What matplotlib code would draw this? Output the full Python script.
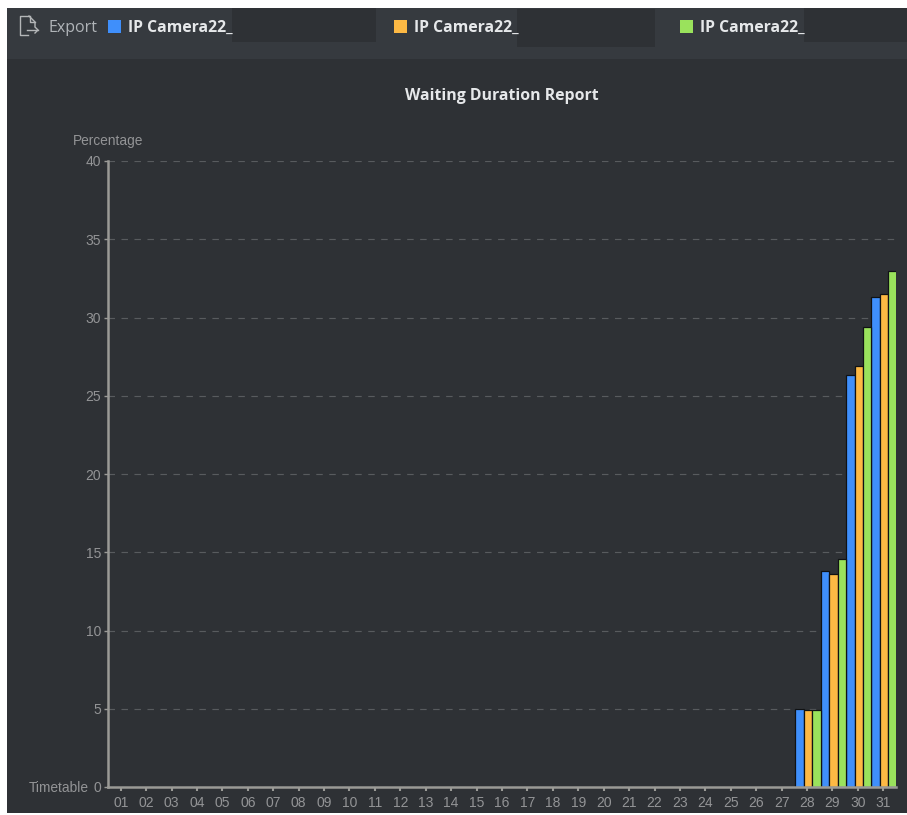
#!/usr/bin/env python
# -*- coding: utf-8 -*-
"""
Waiting duration report, three cameras, dark client window
"""

import matplotlib
matplotlib.use('Agg')
import matplotlib.pyplot as plt
from matplotlib.patches import Rectangle
import numpy as np

# =============================================================================
# Define variables
# =============================================================================
WIDTH, HEIGHT = 907, 815

days = ['{0:02d}'.format(d) for d in range(1, 32)]
camera_a = [0] * 27 + [5.0, 13.8, 26.3, 31.3]
camera_b = [0] * 27 + [4.95, 13.6, 26.9, 31.5]
camera_c = [0] * 27 + [4.95, 14.6, 29.4, 33.0]
yticks = [0, 5, 10, 15, 20, 25, 30, 35, 40]
legend_names = ['IP Camera22_', 'IP Camera22_', 'IP Camera22_']

BLUE = '#3f8ffb'
ORANGE = '#fdb944'
GREEN = '#9ae25c'
BG = '#2e3135'
HEADER = '#363a3f'
MASK = '#2e3135'
AXIS = '#9a9a96'
TEXT = '#939496'

plt.rcParams['font.family'] = ['Liberation Sans', 'DejaVu Sans']

# =============================================================================
# Start of code
# =============================================================================
if __name__ == "__main__":
    fig = plt.figure(figsize=(WIDTH / 100, HEIGHT / 100), dpi=100,
                     facecolor='white')

    # window background, header strip and masked camera names (pixel coords)
    bg = fig.add_axes([0, 0, 1, 1])
    bg.set(xlim=(0, WIDTH), ylim=(HEIGHT, 0))
    bg.axis('off')
    bg.add_patch(Rectangle((7, 8), 900, 805, fc=BG, ec='none'))
    bg.add_patch(Rectangle((7, 8), 900, 51, fc=HEADER, ec='none'))
    bg.add_patch(Rectangle((232, 8), 144, 34, fc=MASK, ec='none'))
    bg.add_patch(Rectangle((517, 9), 138, 38, fc=MASK, ec='none'))
    bg.add_patch(Rectangle((804, 8), 103, 34, fc=MASK, ec='none'))

    # export icon
    bg.plot([29, 20, 20, 28], [16, 16, 35, 35], color='#b4b6b8', lw=1)
    bg.plot([29, 35, 35], [16, 22, 26], color='#b4b6b8', lw=1)
    bg.plot([30, 30, 35], [16, 22, 22], color='#b4b6b8', lw=1)
    bg.plot([27, 38], [30, 30], color='#b4b6b8', lw=1)
    bg.plot([35, 38, 35], [27, 30, 33], color='#b4b6b8', lw=1)
    bg.text(49, 28.5, 'Export', color='#b0b4b8', fontsize=11.5,
            family=['Open Sans', 'DejaVu Sans'], va='center')

    # legend
    for xpos, colour, name in zip([108, 394, 680], [BLUE, ORANGE, GREEN],
                                  legend_names):
        bg.add_patch(Rectangle((xpos, 20), 13, 13, fc=colour, ec='none'))
        bg.text(xpos + 20.5, 28, name, color='#e6e8ea', fontsize=11.3,
                weight='bold', family=['Open Sans', 'DejaVu Sans'],
                va='center')

    bg.text(501.5, 95.5, 'Waiting Duration Report', color='#e6e8ea',
            fontsize=11.4, weight='bold', family=['Open Sans', 'DejaVu Sans'],
            ha='center', va='center')

    # chart axes: x axis spans 108-896 px, y axis spans 161-787 px
    frame = fig.add_axes([108 / WIDTH, 1 - 787 / HEIGHT, 788 / WIDTH,
                          626 / HEIGHT])
    frame.patch.set_alpha(0)
    xpos = np.arange(len(days))
    barwidth = 1 / 3
    for shift, vals, colour in zip([-1, 0, 1],
                                   [camera_a, camera_b, camera_c],
                                   [BLUE, ORANGE, GREEN]):
        frame.bar(xpos + 0.035 + shift * barwidth, vals, width=barwidth,
                  color=colour, edgecolor='#101214', linewidth=0.9, zorder=3)

    frame.set_xlim(-0.5, 30.5)
    frame.set_ylim(0, 40)
    frame.set_xticks(xpos)
    frame.set_xticklabels(days)
    frame.set_yticks(yticks)
    frame.tick_params(axis='x', length=3, width=1.5, color=AXIS, labelcolor=TEXT,
                      labelsize=10, pad=3.5)
    frame.tick_params(axis='y', length=3, width=1, color=AXIS, labelcolor=TEXT,
                      labelsize=10, pad=2)
    frame.grid(axis='y', color='#585b5e', lw=0.85, dashes=(5.5, 5.5), zorder=1)
    frame.set_axisbelow(True)
    for side in ['top', 'right']:
        frame.spines[side].set_visible(False)
    for side in ['left', 'bottom']:
        frame.spines[side].set_color(AXIS)
        frame.spines[side].set_linewidth(1.8)
        frame.spines[side].set_zorder(4)

    bg.text(108, 140.5, 'Percentage', color=TEXT, fontsize=9.9, ha='center',
            va='center')
    bg.text(59, 788.5, 'Timetable', color=TEXT, fontsize=9.9, ha='center',
            va='center')

    fig.savefig('out.png', dpi=100, facecolor='white')
    plt.close()

# =============================================================================
# End of code
# =============================================================================
